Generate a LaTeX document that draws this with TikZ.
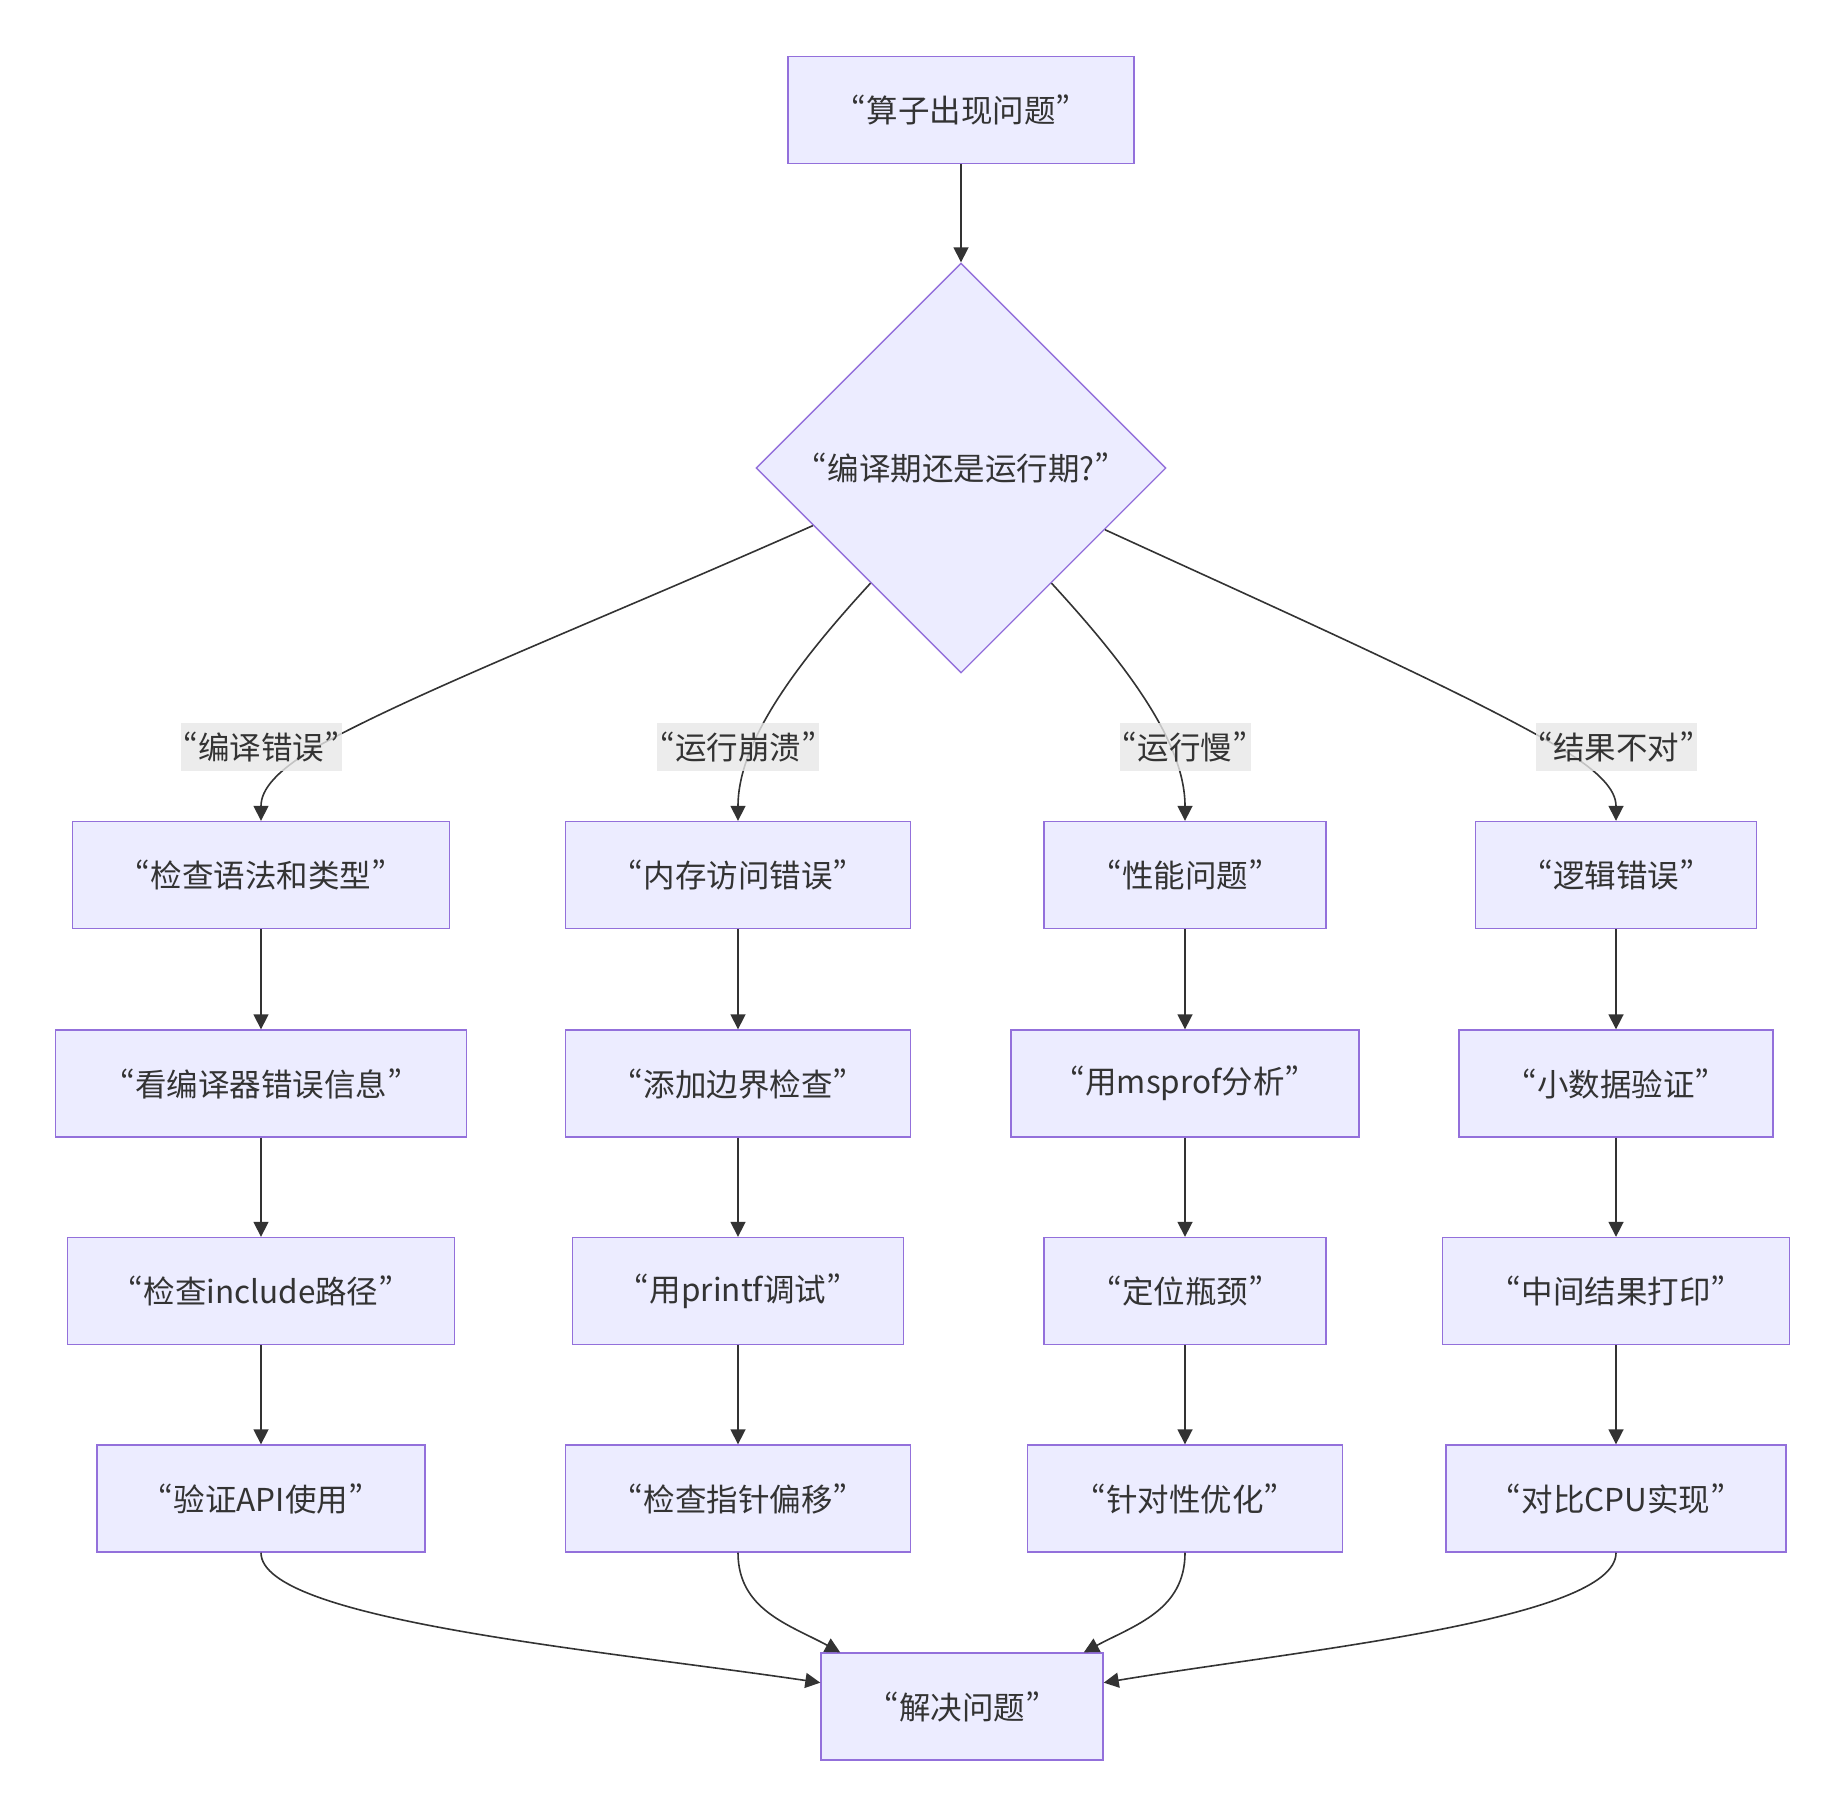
\documentclass[tikz,border=0pt]{standalone}
\usepackage{fontspec}
\setmainfont{Noto Sans CJK SC}
\newfontfamily\quotefont{Noto Sans CJK SC}[CharacterWidth=Proportional]
\newcommand\myoq{{\quotefont “}}
\newcommand\mycq{{\quotefont ”}}
\usetikzlibrary{shapes.geometric,arrows.meta,calc}
\definecolor{nodefill}{HTML}{ECECFF}
\definecolor{nodeline}{HTML}{9370DB}
\definecolor{txtcol}{HTML}{333333}
\definecolor{edgecol}{HTML}{333333}
\definecolor{lblbg}{HTML}{E8E8E8}
\begin{document}
\begin{tikzpicture}[x=0.5pt,y=-0.5pt,
  box/.style={draw=nodeline,fill=nodefill,line width=0.7pt,minimum height=53.5pt,inner sep=0pt,text=txtcol,font=\fontsize{15.75pt}{19pt}\selectfont},
  decision/.style={diamond,aspect=1,draw=nodeline,fill=nodefill,line width=0.7pt,minimum width=205pt,minimum height=205pt,inner sep=0pt,text=txtcol,font=\fontsize{15.75pt}{19pt}\selectfont},
  elabel/.style={fill=lblbg,fill opacity=0.8,text opacity=1,inner sep=0pt,minimum height=24pt,text=txtcol,font=\fontsize{15.75pt}{19pt}\selectfont},
  conn/.style={draw=edgecol,line width=0.8pt,-{Triangle[length=7.5pt,width=7.5pt]}}
]
\useasboundingbox[fill=white] (0,0) rectangle (1845,1817);

% nodes
\node[box,minimum width=173pt] (top) at (961,110) {\myoq 算子出现问题\mycq};
\node[decision] (dia) at (961,468) {\myoq 编译期还是运行期?\mycq};

\node[box,minimum width=188.5pt] (a1) at (261,875) {\myoq 检查语法和类型\mycq};
\node[box,minimum width=172.5pt] (b1) at (738,875) {\myoq 内存访问错误\mycq};
\node[box,minimum width=141pt]   (c1) at (1185,875) {\myoq 性能问题\mycq};
\node[box,minimum width=140.5pt] (d1) at (1616,875) {\myoq 逻辑错误\mycq};

\node[box,minimum width=205.5pt] (a2) at (261,1083.5) {\myoq 看编译器错误信息\mycq};
\node[box,minimum width=172.5pt] (b2) at (738,1083.5) {\myoq 添加边界检查\mycq};
\node[box,minimum width=174pt]   (c2) at (1185,1083.5) {\myoq 用msprof分析\mycq};
\node[box,minimum width=157pt]   (d2) at (1616,1083.5) {\myoq 小数据验证\mycq};

\node[box,minimum width=193.5pt] (a3) at (261,1291) {\myoq 检查include路径\mycq};
\node[box,minimum width=165.5pt] (b3) at (738,1291) {\myoq 用printf调试\mycq};
\node[box,minimum width=141pt]   (c3) at (1185,1291) {\myoq 定位瓶颈\mycq};
\node[box,minimum width=173.5pt] (d3) at (1616,1291) {\myoq 中间结果打印\mycq};

\node[box,minimum width=164pt]   (a4) at (261,1498.5) {\myoq 验证API使用\mycq};
\node[box,minimum width=172.5pt] (b4) at (738,1498.5) {\myoq 检查指针偏移\mycq};
\node[box,minimum width=157.5pt] (c4) at (1185,1498.5) {\myoq 针对性优化\mycq};
\node[box,minimum width=170pt]   (d4) at (1616,1498.5) {\myoq 对比CPU实现\mycq};

\node[box,minimum width=141pt] (e) at (962,1706.5) {\myoq 解决问题\mycq};

% connectors
\draw[conn] (top) -- (dia.north);

\coordinate (p1) at ($(dia.west)!0.28!(dia.south)$);
\coordinate (p2) at ($(dia.west)!0.56!(dia.south)$);
\coordinate (p3) at ($(dia.east)!0.56!(dia.south)$);
\coordinate (p4) at ($(dia.east)!0.30!(dia.south)$);

\draw[conn] (p1) .. controls (600,620) and (420,690) .. (320,745) .. controls (275,771) and (261,790) .. (a1.north);
\draw[conn] (p2) .. controls (800,660) and (738,740) .. (b1.north);
\draw[conn] (p3) .. controls (1122,660) and (1185,740) .. (c1.north);
\draw[conn] (p4) .. controls (1280,610) and (1460,690) .. (1555,745) .. controls (1600,771) and (1616,790) .. (d1.north);

\foreach \c in {a,b,c,d}{
  \draw[conn] (\c1) -- (\c2);
  \draw[conn] (\c2) -- (\c3);
  \draw[conn] (\c3) -- (\c4);
}

\draw[conn] (a4.south) .. controls (261,1620) and (600,1650) .. ($(e.north west)!0.28!(e.south west)$);
\draw[conn] (b4.south) .. controls (738,1610) and (790,1625) .. ($(e.north west)!0.07!(e.north east)$);
\draw[conn] (c4.south) .. controls (1185,1610) and (1135,1625) .. ($(e.north west)!0.93!(e.north east)$);
\draw[conn] (d4.south) .. controls (1616,1620) and (1300,1650) .. ($(e.north east)!0.28!(e.south east)$);

% edge labels
\node[elabel,minimum width=80.5pt] (l1) at (261,747) {\myoq 编译错误\mycq};
\node[elabel,minimum width=81pt]   (l2) at (738,747) {\myoq 运行崩溃\mycq};
\node[elabel,minimum width=65.5pt] (l3) at (1185,747) {\myoq 运行慢\mycq};
\node[elabel,minimum width=80.5pt] (l4) at (1616,747) {\myoq 结果不对\mycq};
\end{tikzpicture}
\end{document}
